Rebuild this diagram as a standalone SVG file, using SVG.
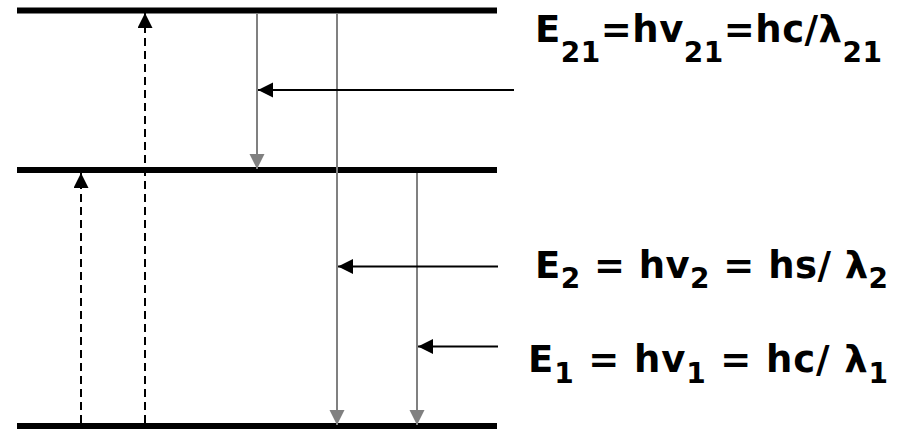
<svg xmlns="http://www.w3.org/2000/svg" width="908" height="431" viewBox="0 0 908 431">
<style>
.level{stroke:#000;stroke-width:6;fill:none}
.gray{stroke:#808080;stroke-width:2;fill:none}
.dash{stroke:#000;stroke-width:2;stroke-dasharray:8 5;fill:none}
.ph{stroke:#000;stroke-width:2;fill:none}
.t{font-family:"DejaVu Sans","Liberation Sans",Arial,sans-serif;font-weight:bold;font-size:37px;fill:#000}
.sub{font-size:28px}
</style>
<defs>
<marker id="ag" markerUnits="userSpaceOnUse" markerWidth="16" markerHeight="16" refX="15" refY="7.5" orient="auto"><path d="M0,0 L15,7.5 L0,15 Z" fill="#808080"/></marker>
<marker id="ab" markerUnits="userSpaceOnUse" markerWidth="16" markerHeight="16" refX="15" refY="7.5" orient="auto"><path d="M0,0 L15,7.5 L0,15 Z" fill="#000"/></marker>
</defs>
<g id="levels">
<line class="level" x1="17" y1="10.5" x2="497" y2="10.5"/>
<line class="level" x1="17" y1="170" x2="497" y2="170"/>
<line class="level" x1="17" y1="426" x2="497" y2="426"/>
</g>
<g id="connectors">
<line class="dash" x1="145" y1="423" x2="145" y2="13" marker-end="url(#ab)"/>
<line class="dash" x1="81" y1="423" x2="81" y2="173" marker-end="url(#ab)"/>
<line class="gray" x1="257" y1="13" x2="257" y2="169" marker-end="url(#ag)"/>
<line class="gray" x1="337" y1="13" x2="337" y2="425" marker-end="url(#ag)"/>
<line class="gray" x1="417" y1="173" x2="417" y2="425" marker-end="url(#ag)"/>
<line class="ph" x1="514" y1="90" x2="258" y2="90" marker-end="url(#ab)"/>
<line class="ph" x1="498" y1="266.5" x2="338" y2="266.5" marker-end="url(#ab)"/>
<line class="ph" x1="498" y1="346.5" x2="418" y2="346.5" marker-end="url(#ab)"/>
</g>
<g id="label-e21">
<text class="t" x="535" y="42" textLength="347" lengthAdjust="spacing">E<tspan class="sub" dy="20">21</tspan><tspan dy="-20">=hv</tspan><tspan class="sub" dy="20">21</tspan><tspan dy="-20">=hc/λ</tspan><tspan class="sub" dy="20">21</tspan></text>
</g>
<g id="label-e2">
<text class="t" x="535" y="278" textLength="353" lengthAdjust="spacing">E<tspan class="sub" dy="10">2</tspan><tspan dy="-10"> = hv</tspan><tspan class="sub" dy="10">2</tspan><tspan dy="-10"> = hs/ λ</tspan><tspan class="sub" dy="10">2</tspan></text>
</g>
<g id="label-e1">
<text class="t" x="528" y="372" textLength="360" lengthAdjust="spacing">E<tspan class="sub" dy="11">1</tspan><tspan dy="-11"> = hv</tspan><tspan class="sub" dy="11">1</tspan><tspan dy="-11"> = hc/ λ</tspan><tspan class="sub" dy="11">1</tspan></text>
</g>
</svg>
